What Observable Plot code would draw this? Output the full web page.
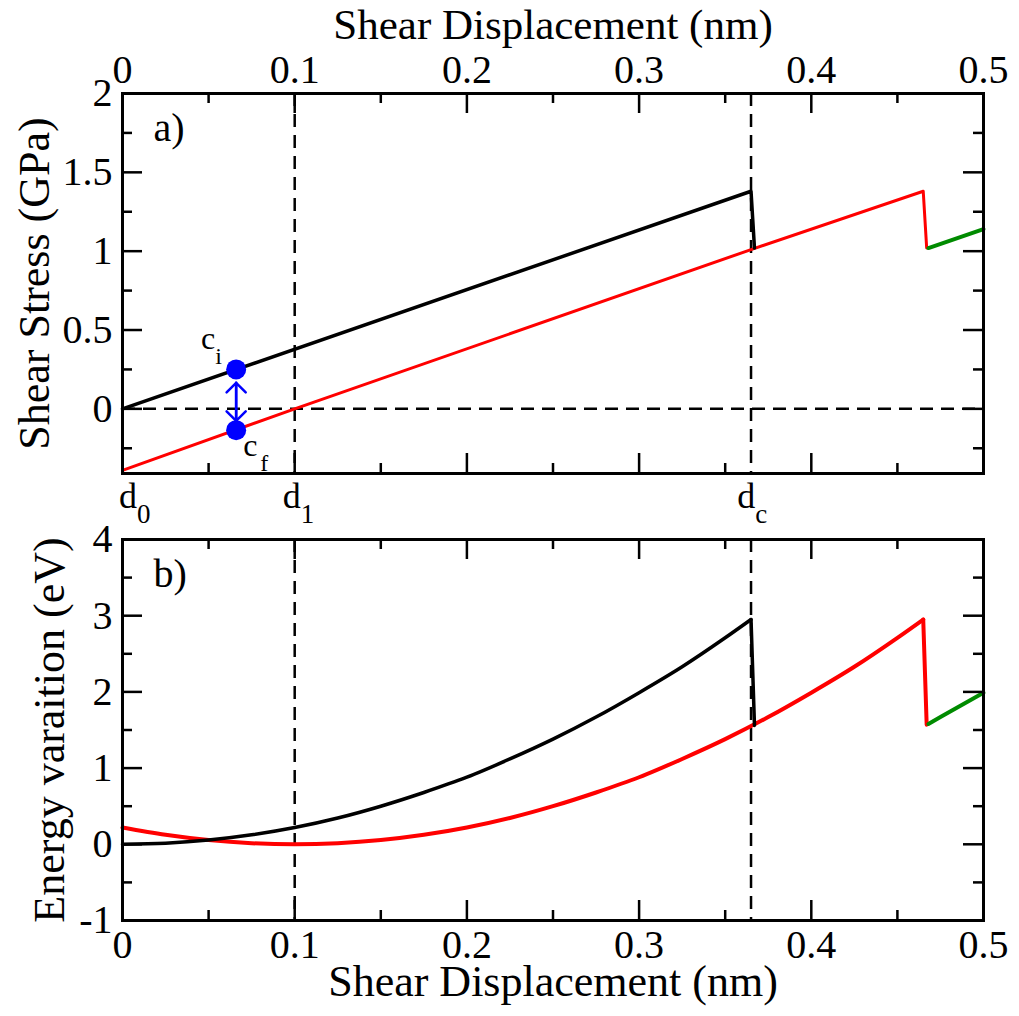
<!DOCTYPE html>
<html><head><meta charset="utf-8">
<script src="https://cdn.jsdelivr.net/npm/d3@7"></script>
<script src="https://cdn.jsdelivr.net/npm/@observablehq/plot@0.6"></script>
<style>body{margin:0;background:#fff;} svg{display:block}</style>
</head><body><div id="chart"></div>
<script>
// ---- tick values ----
const xMajor = [0, 0.1, 0.2, 0.3, 0.4, 0.5];
const xMinor = [0.05, 0.15, 0.25, 0.35, 0.45];
const stressMajor = [0, 0.5, 1, 1.5, 2];
const stressMinor = [-0.25, 0.25, 0.75, 1.25, 1.75];
const energyMajor = [-1, 0, 1, 2, 3, 4];
const energyMinor = [-0.5, 0.5, 1.5, 2.5, 3.5];

// ---- panel a) shear stress (GPa) ----
const stressBlackX = [0, 0.365, 0.367];
const stressBlackY = [0, 1.38, 1.02];
const stressRedX = [0, 0.1, 0.365, 0.465, 0.467];
const stressRedY = [-0.39, 0, 1.01, 1.38, 1.02];
const stressGreenX = [0.468, 0.5];
const stressGreenY = [1.02, 1.14];

// ---- panel b) energy variation (eV) ----
const energyBlackX = [0, 0.025, 0.05, 0.075, 0.1, 0.125, 0.15, 0.175, 0.2, 0.225, 0.25, 0.275, 0.3, 0.325, 0.35, 0.365, 0.367];
const energyBlackY = [0, 0.014, 0.055, 0.124, 0.22, 0.345, 0.50, 0.68, 0.88, 1.12, 1.38, 1.67, 1.99, 2.33, 2.71, 2.95, 1.56];
const energyRedX = [0, 0.025, 0.05, 0.075, 0.1, 0.125, 0.15, 0.175, 0.2, 0.225, 0.25, 0.275, 0.3, 0.325, 0.35, 0.375, 0.4, 0.425, 0.45, 0.465, 0.467];
const energyRedY = [0.22, 0.124, 0.055, 0.014, 0, 0.014, 0.055, 0.124, 0.22, 0.345, 0.50, 0.68, 0.88, 1.12, 1.38, 1.67, 1.99, 2.33, 2.71, 2.95, 1.57];
const energyGreenX = [0.468, 0.475, 0.5];
const energyGreenY = [1.58, 1.67, 1.99];

// ---- annotations ----
const markedX = [0.1, 0.365];            // dashed verticals d1, dc
const dLabelX = [-0.002, 0.093, 0.357];  // label positions for d0, d1, dc
const dLabelSub = ["0", "1", "c"];
const stateX = 0.066;
const stateNames = ["i", "f"];
const stateY = [0.25, -0.135];
const arrowTipsY = [-0.076, 0.165];

const FONT = '"Liberation Serif", "Times New Roman", Times, serif';
const W = 1019, ML = 122, MR = 36;
const FW = W - ML - MR;

const zip = (xs, ys) => xs.map((x, i) => ({x, y: ys[i]}));
const fmt = d => String(d);
// smooth rising part + straight drop at the end of each energy branch
function energyBranch(xs, ys, color, sw) {
  const pts = zip(xs, ys);
  const n = pts.length;
  return [
    Plot.line(pts.slice(0, n - 1), {x: "x", y: "y", stroke: color, strokeWidth: sw, curve: "monotone-x", strokeLinejoin: "miter"}),
    Plot.line(pts.slice(n - 2), {x: "x", y: "y", stroke: color, strokeWidth: sw})
  ];
}

function frameTicks(yMaj, yMin, fh) {
  const sw = 2.5;
  return [
    Plot.tickX(xMajor, {x: d => d, insetBottom: fh - 20, strokeWidth: sw}),
    Plot.tickX(xMinor, {x: d => d, insetBottom: fh - 10, strokeWidth: sw}),
    Plot.tickX(xMajor, {x: d => d, insetTop: fh - 20, strokeWidth: sw}),
    Plot.tickX(xMinor, {x: d => d, insetTop: fh - 10, strokeWidth: sw}),
    Plot.tickY(yMaj, {y: d => d, insetRight: FW - 20, strokeWidth: sw}),
    Plot.tickY(yMin, {y: d => d, insetRight: FW - 10, strokeWidth: sw}),
    Plot.tickY(yMaj, {y: d => d, insetLeft: FW - 20, strokeWidth: sw}),
    Plot.tickY(yMin, {y: d => d, insetLeft: FW - 10, strokeWidth: sw}),
    Plot.frame({stroke: "black", strokeWidth: 3})
  ];
}

const dash = {stroke: "black", strokeWidth: 2.5, strokeDasharray: "13,8"};
const states = stateNames.map((n, i) => ({x: stateX, y: stateY[i], n}));
const tips = [
  {x: stateX, y: arrowTipsY[0], rot: 0},
  {x: stateX, y: arrowTipsY[1], rot: 180}
];

// ---- top plot ----
const H1 = 530, MT1 = 93, MB1 = 57;
const plotA = Plot.plot({
  width: W, height: H1, marginTop: MT1, marginBottom: MB1, marginLeft: ML, marginRight: MR,
  x: {domain: [0, 0.5], label: null},
  y: {domain: [-0.41, 2], label: null},
  style: {fontFamily: FONT, fontSize: "40px", background: "white", color: "black", overflow: "visible"},
  marks: [
    Plot.ruleY([0], dash),
    Plot.ruleX(markedX, {x: d => d, ...dash}),
    Plot.line(zip(stressRedX, stressRedY), {x: "x", y: "y", stroke: "#ff0000", strokeWidth: 3}),
    Plot.line(zip(stressBlackX, stressBlackY), {x: "x", y: "y", stroke: "black", strokeWidth: 3.5}),
    Plot.line(zip(stressGreenX, stressGreenY), {x: "x", y: "y", stroke: "#008b00", strokeWidth: 4}),
    Plot.vector(tips, {x: "x", y: "y", rotate: "rot", length: 38, anchor: "start", shape: "arrow", r: 4.4, stroke: "#0000ff", strokeWidth: 2.5}),
    Plot.dot(states, {x: "x", y: "y", r: 10, fill: "#0000ff", stroke: null}),
    ...frameTicks(stressMajor, stressMinor, H1 - MT1 - MB1),
    Plot.axisX(xMajor, {anchor: "top", tickSize: 0, tickPadding: 11, tickFormat: fmt, label: null}),
    Plot.axisY(stressMajor, {anchor: "left", tickSize: 0, tickPadding: 10, tickFormat: fmt, label: null}),
    Plot.text(["Shear Displacement (nm)"], {frameAnchor: "top", dy: -55, lineAnchor: "bottom", fontSize: 43}),
    Plot.text(["Shear Stress (GPa)"], {frameAnchor: "left", textAnchor: "middle", dx: -74, rotate: -90, lineAnchor: "bottom", fontSize: 44}),
    Plot.text(["a)"], {frameAnchor: "top-left", dx: 31, dy: 47, textAnchor: "start", lineAnchor: "bottom", fontSize: 40}),
    // c_i / c_f labels
    Plot.text([states[0]], {x: "x", y: "y", text: () => "c", textAnchor: "end", dx: -21, dy: -20, lineAnchor: "bottom", fontSize: 32}),
    Plot.text([states[0]], {x: "x", y: "y", text: "n", textAnchor: "start", dx: -21, dy: -5, lineAnchor: "bottom", fontSize: 24}),
    Plot.text([states[1]], {x: "x", y: "y", text: () => "c", textAnchor: "start", dx: 7, dy: 26, lineAnchor: "bottom", fontSize: 32}),
    Plot.text([states[1]], {x: "x", y: "y", text: "n", textAnchor: "start", dx: 24, dy: 41, lineAnchor: "bottom", fontSize: 24}),
    // d labels
    Plot.text(dLabelX, {x: d => d, text: () => "d", frameAnchor: "bottom", dy: 34, textAnchor: "start", lineAnchor: "bottom", fontSize: 36}),
    Plot.text(dLabelX, {x: d => d, text: (d, i) => dLabelSub[i], frameAnchor: "bottom", dy: 49, dx: 18, textAnchor: "start", lineAnchor: "bottom", fontSize: 27})
  ]
});

// ---- bottom plot ----
const H2 = 1016 - H1, MT2 = 539 - H1, MB2 = 1016 - 920;
const plotB = Plot.plot({
  width: W, height: H2, marginTop: MT2, marginBottom: MB2, marginLeft: ML, marginRight: MR,
  x: {domain: [0, 0.5], label: null},
  y: {domain: [-1, 4], label: null},
  style: {fontFamily: FONT, fontSize: "40px", background: "white", color: "black", overflow: "visible"},
  marks: [
    Plot.ruleX(markedX, {x: d => d, ...dash}),
    ...energyBranch(energyRedX, energyRedY, "#ff0000", 4),
    ...energyBranch(energyBlackX, energyBlackY, "black", 3.5),
    Plot.line(zip(energyGreenX, energyGreenY), {x: "x", y: "y", stroke: "#008b00", strokeWidth: 4, curve: "monotone-x"}),
    ...frameTicks(energyMajor, energyMinor, H2 - MT2 - MB2),
    Plot.axisX(xMajor, {anchor: "bottom", tickSize: 0, tickPadding: 9, tickFormat: fmt, label: null}),
    Plot.axisY(energyMajor, {anchor: "left", tickSize: 0, tickPadding: 10, tickFormat: fmt, label: null}),
    Plot.text(["Shear Displacement (nm)"], {frameAnchor: "bottom", dy: 75, lineAnchor: "bottom", fontSize: 44}),
    Plot.text(["Energy varaition (eV)"], {frameAnchor: "left", textAnchor: "middle", dx: -59, rotate: -90, lineAnchor: "bottom", fontSize: 44}),
    Plot.text(["b)"], {frameAnchor: "top-left", dx: 31, dy: 47, textAnchor: "start", lineAnchor: "bottom", fontSize: 40})
  ]
});

const chartEl = document.getElementById("chart");
chartEl.appendChild(plotA);
chartEl.appendChild(plotB);
</script>
</body></html>
